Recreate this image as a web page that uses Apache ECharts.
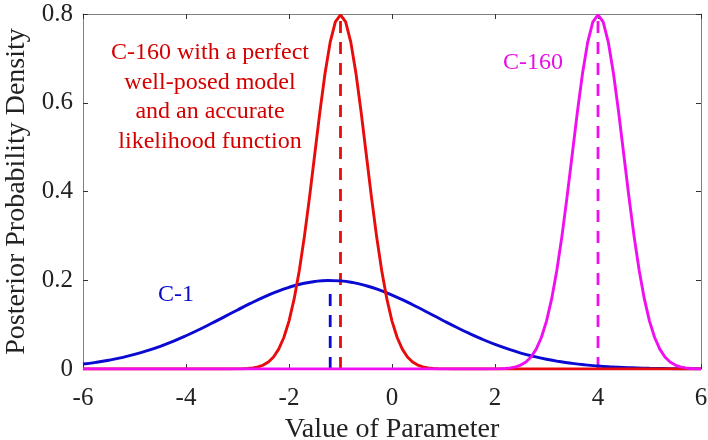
<!DOCTYPE html>
<html>
<head>
<meta charset="utf-8">
<script src="https://cdn.jsdelivr.net/npm/echarts@6/dist/echarts.min.js"></script>
<style>
html,body{margin:0;padding:0;background:#fff;}
#chart{width:708px;height:440px;}
</style>
</head>
<body>
<div id="chart"></div>
<script>
// ---- data ----
const blueX = [-6,-5.75,-5.5,-5.25,-5,-4.75,-4.5,-4.25,-4,-3.75,-3.5,-3.25,-3,-2.75,-2.5,-2.25,-2,-1.75,-1.5,-1.25,-1,-0.75,-0.5,-0.25,0,0.25,0.5,0.75,1,1.25,1.5,1.75,2,2.25,2.5,2.75,3,3.25,3.5,3.75,4,4.25,4.5,4.75,5,5.25,5.5,5.75,6];
const blueY = [0.0112,0.0150,0.0198,0.0257,0.0328,0.0413,0.0512,0.0624,0.0749,0.0885,0.1030,0.1180,0.1331,0.1478,0.1615,0.1738,0.1842,0.1921,0.1973,0.1995,0.1985,0.1945,0.1876,0.1782,0.1666,0.1534,0.1390,0.1240,0.1089,0.0942,0.0802,0.0672,0.0555,0.0451,0.0360,0.0284,0.0220,0.0168,0.0126,0.0093,0.0068,0.0049,0.0034,0.0024,0.0016,0.0011,0.0007,0.0005,0.0003];

const redX = [-6,-4,-3.2,-3.0,-2.9,-2.8,-2.7,-2.6,-2.5,-2.4,-2.3,-2.2,-2.1,-2.0,-1.9,-1.8,-1.7,-1.6,-1.5,-1.4,-1.3,-1.2,-1.1,-1.0,-0.9,-0.8,-0.7,-0.6,-0.5,-0.4,-0.3,-0.2,-0.1,0.0,0.1,0.2,0.3,0.4,0.5,0.6,0.7,0.8,0.9,1.0,1.2,3,6];
const redY = [0,0,0,0.0003,0.0006,0.0012,0.0025,0.0048,0.0089,0.0158,0.0272,0.0448,0.0710,0.1080,0.1579,0.2218,0.2995,0.3885,0.4840,0.5794,0.6666,0.7366,0.7822,0.798,0.7822,0.7366,0.6666,0.5794,0.4840,0.3885,0.2995,0.2218,0.1579,0.1080,0.0710,0.0448,0.0272,0.0158,0.0089,0.0048,0.0025,0.0012,0.0006,0.0003,0,0,0];

const magX = [-6,0,1.8,2.0,2.1,2.2,2.3,2.4,2.5,2.6,2.7,2.8,2.9,3.0,3.1,3.2,3.3,3.4,3.5,3.6,3.7,3.8,3.9,4.0,4.1,4.2,4.3,4.4,4.5,4.6,4.7,4.8,4.9,5.0,5.1,5.2,5.3,5.4,5.5,5.6,5.7,5.8,5.9,6.0];
const magY = [0,0,0,0.0003,0.0006,0.0012,0.0025,0.0048,0.0089,0.0158,0.0272,0.0448,0.0710,0.1080,0.1579,0.2218,0.2995,0.3885,0.4840,0.5794,0.6666,0.7366,0.7822,0.798,0.7822,0.7366,0.6666,0.5794,0.4840,0.3885,0.2995,0.2218,0.1579,0.1080,0.0710,0.0448,0.0272,0.0158,0.0089,0.0048,0.0025,0.0012,0.0006,0.0003];

// vertical dashed markers: x position and top value
const blueMark = [-1.2, 0.175];
const redMark = [-1.0, 0.798];
const magMark = [4.0, 0.798];

const yTickLabels = ['0','0.2','0.4','0.6','0.8'];
const xTitle = 'Value of Parameter';
const yTitle = 'Posterior Probability Density';
const redNote = 'C-160 with a perfect\nwell-posed model\nand an accurate\nlikelihood function';
const magNote = 'C-160';
const blueNote = 'C-1';

// ---- chart ----
const FONT = '"Liberation Serif", "Times New Roman", serif';
const zip = (xs, ys) => xs.map((x, i) => [x, ys[i]]);
const BLUE = '#0a0ad2', RED = '#e80c0c', MAG = '#f00ff0';
const axisCol = '#808080';

function lineSeries(data, color, opts) {
  return Object.assign({
    type: 'line', data: data, showSymbol: false, symbol: 'none',
    lineStyle: { color: color, width: 2.9 }, animation: false, z: 3
  }, opts || {});
}
function dashSeries(mark, color) {
  return lineSeries([[mark[0], 0], [mark[0], mark[1]]], color, {
    lineStyle: { color: color, width: 2.8, type: [12, 9] }, z: 2
  });
}

const chart = echarts.init(document.getElementById('chart'), null, { renderer: 'canvas' });
const commonX = {
  type: 'value', min: -6, max: 6, interval: 2,
  axisLine: { show: true, onZero: false, lineStyle: { color: axisCol, width: 1 } },
  axisTick: { show: true, inside: true, length: 5, lineStyle: { color: '#333', width: 1 } },
  splitLine: { show: false }
};
const commonY = {
  type: 'value', min: 0, max: 0.8, interval: 0.2,
  axisLine: { show: true, onZero: false, lineStyle: { color: axisCol, width: 1 } },
  axisTick: { show: true, inside: true, length: 5, lineStyle: { color: '#333', width: 1 } },
  splitLine: { show: false }
};

chart.setOption({
  backgroundColor: '#ffffff',
  animation: false,
  grid: { left: 83, right: 7, top: 14, bottom: 71, containLabel: false, outerBoundsMode: 'none' },
  xAxis: [
    Object.assign({}, commonX, {
      position: 'bottom',
      axisLabel: { fontFamily: FONT, fontSize: 25, color: '#222', margin: 17 },
      name: xTitle, nameLocation: 'middle', nameGap: 40,
      nameTextStyle: { fontFamily: FONT, fontSize: 28, color: '#222' }
    }),
    Object.assign({}, commonX, { position: 'top', axisLabel: { show: false } })
  ],
  yAxis: [
    Object.assign({}, commonY, {
      position: 'left',
      axisLabel: {
        fontFamily: FONT, fontSize: 25, color: '#222', margin: 10,
        padding: [9, 0, 0, 0],
        formatter: function (v) { return yTickLabels[Math.round(v / 0.2)]; }
      },
      name: yTitle, nameLocation: 'middle', nameGap: 37,
      nameTextStyle: { fontFamily: FONT, fontSize: 28, color: '#222' }
    }),
    Object.assign({}, commonY, { position: 'right', axisLabel: { show: false } })
  ],
  series: [
    dashSeries(blueMark, BLUE),
    dashSeries(redMark, RED),
    dashSeries(magMark, MAG),
    lineSeries(zip(blueX, blueY), BLUE, { smooth: true }),
    lineSeries(zip(redX, redY), RED),
    lineSeries(zip(magX, magY), MAG)
  ],
  graphic: [
    { type: 'text', x: 210, y: 97, z: 10, style: { text: redNote, fill: '#d40000', font: '24px ' + FONT, textAlign: 'center', textVerticalAlign: 'middle', lineHeight: 29.5 } },
    { type: 'text', x: 533, y: 63, z: 10, style: { text: magNote, fill: '#e60fe6', font: '24px ' + FONT, textAlign: 'center', textVerticalAlign: 'middle' } },
    { type: 'text', x: 176, y: 295, z: 10, style: { text: blueNote, fill: '#0a0ac8', font: '24px ' + FONT, textAlign: 'center', textVerticalAlign: 'middle' } }
  ]
});
</script>
</body>
</html>
